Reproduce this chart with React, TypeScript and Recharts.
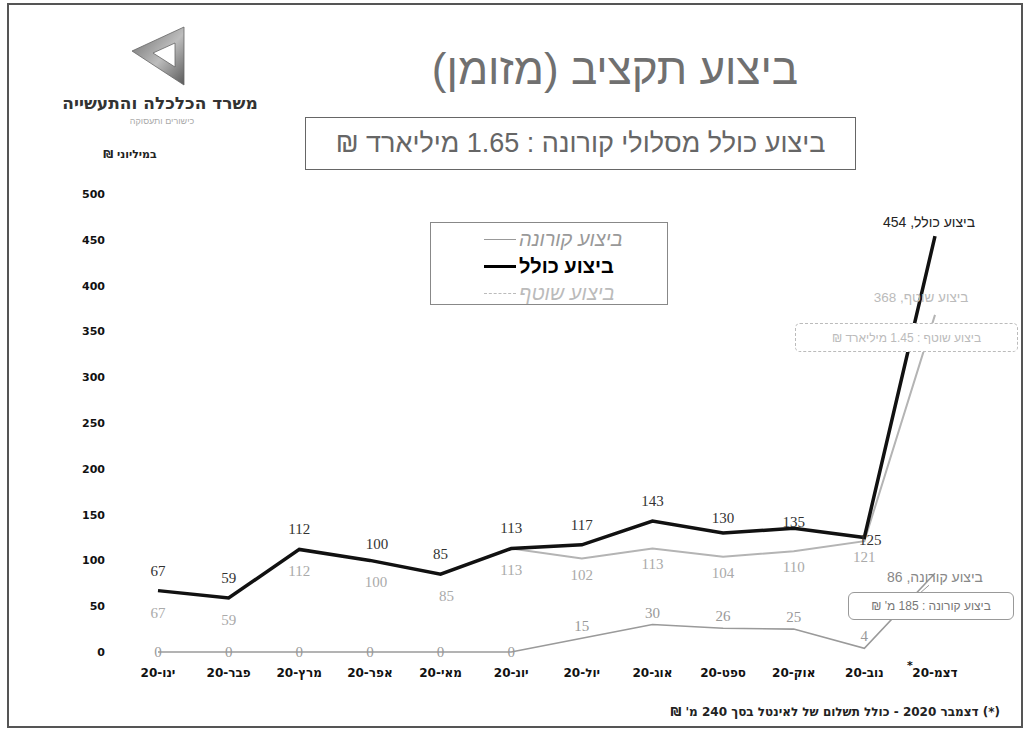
import React from "react";
import { LineChart, Line, XAxis, YAxis, LabelList } from "recharts";

// months, Jan..Dec 2020
const months = ["ינו-20", "פבר-20", "מרץ-20", "אפר-20", "מאי-20", "יונ-20", "יול-20", "אוג-20", "ספט-20", "אוק-20", "נוב-20", "דצמ-20"];
const totalSpend = [67, 59, 112, 100, 85, 113, 117, 143, 130, 135, 125, 454];
const ongoingSpend = [67, 59, 112, 100, 85, 113, 102, 113, 104, 110, 121, 368];
const coronaSpend = [0, 0, 0, 0, 0, 0, 15, 30, 26, 25, 4, 86];
const yTicks = [0, 50, 100, 150, 200, 250, 300, 350, 400, 450, 500];
const starredMonth = "דצמ-20";

const seriesNames = { corona: "ביצוע קורונה", total: "ביצוע כולל", ongoing: "ביצוע שוטף" };

const data = months.map((m, i) => ({
  month: m,
  total: totalSpend[i],
  ongoing: ongoingSpend[i],
  corona: coronaSpend[i],
}));

const LAST = months.length - 1;
const HEB = "'Liberation Sans', Arial, sans-serif";
const BOLD = "'DejaVu Sans', Tahoma, sans-serif";
const NUM = "'Liberation Serif', serif";

const C_TOTAL = "#111111";
const C_ONGOING = "#b4b4b4";
const C_CORONA = "#9a9a9a";

function TotalLabel(props: any) {
  const { x, y, value, index } = props;
  if (index === LAST) {
    return (
      <text x={x - 6} y={y - 9} textAnchor="middle" direction="rtl" fontFamily={HEB} fontSize={14} fill="#222">
        {`${seriesNames.total}, ${value}`}
      </text>
    );
  }
  let dx = 0;
  let dy = -20;
  if (index === 3) { dx = 7; dy = -16; }
  if (index === 8) dy = -15;
  if (index === 9) dy = -6;
  if (index === 10) { dx = 6; dy = 2; }
  return (
    <text x={x + dx} y={y + dy + 5} textAnchor="middle" fontFamily={NUM} fontSize={15} fill="#333">
      {value}
    </text>
  );
}

function OngoingLabel(props: any) {
  const { x, y, value, index } = props;
  if (index === LAST) {
    return (
      <text x={x - 14} y={y - 13} textAnchor="middle" direction="rtl" fontFamily={HEB} fontSize={13.5} fill="#bbb">
        {`${seriesNames.ongoing}, ${value}`}
      </text>
    );
  }
  const dy = index <= 5 ? 22 : 16;
  const dx = index === 3 || index === 4 ? 6 : 0;
  return (
    <text x={x + dx} y={y + dy + 5} textAnchor="middle" fontFamily={NUM} fontSize={15} fill="#aaa">
      {value}
    </text>
  );
}

function CoronaLabel(props: any) {
  const { x, y, value, index } = props;
  if (index === LAST) {
    return (
      <g>
        <text x={x} y={y + 9} textAnchor="middle" direction="rtl" fontFamily={HEB} fontSize={14} fill="#888">
          {`${seriesNames.corona}, ${value}`}
        </text>
        <line x1={x - 6} y1={y + 12} x2={x - 14} y2={y + 19} stroke="#999" strokeWidth={1} />
      </g>
    );
  }
  const dy = value === 0 ? 0 : -12;
  return (
    <text x={x} y={y + dy + 5} textAnchor="middle" fontFamily={NUM} fontSize={15} fill="#999">
      {value}
    </text>
  );
}

function MonthTick(props: any) {
  const { x, y, payload } = props;
  return (
    <g>
      <text x={x} y={y} dy={19} textAnchor="middle" fontFamily={BOLD} fontWeight="bold" fontSize={12} fill="#111">
        {payload.value}
      </text>
      {payload.value === starredMonth && (
        <text x={x - 25} y={y} dy={11} textAnchor="middle" fontFamily={BOLD} fontWeight="bold" fontSize={11} fill="#111">
          *
        </text>
      )}
    </g>
  );
}

function Legend() {
  const rows = [
    { name: seriesNames.corona, color: "#999", width: 1.5, dash: false, style: "italic", weight: "normal" },
    { name: seriesNames.total, color: "#000", width: 3, dash: false, style: "normal", weight: "bold" },
    { name: seriesNames.ongoing, color: "#bbb", width: 1.5, dash: true, style: "italic", weight: "normal" },
  ];
  return (
    <div
      style={{
        position: "absolute",
        left: 430,
        top: 222,
        width: 238,
        height: 83,
        border: "1px solid #888",
        boxSizing: "border-box",
        background: "#fff",
      }}
    >
      {rows.map((r, i) => (
        <div key={i} style={{ position: "absolute", left: 53, top: 3 + i * 27, height: 26, display: "flex", alignItems: "center" }}>
          <div
            style={{
              width: 32,
              height: 0,
              borderTop: `${r.width}px ${r.dash ? "dashed" : "solid"} ${r.color}`,
              marginRight: 3,
            }}
          />
          <span
            dir="rtl"
            style={{ fontFamily: HEB, fontSize: 20, fontStyle: r.style, fontWeight: r.weight as any, color: r.color, whiteSpace: "nowrap" }}
          >
            {r.name}
          </span>
        </div>
      ))}
    </div>
  );
}

function Logo() {
  return (
    <svg width={80} height={80} style={{ position: "absolute", left: 120, top: 18 }}>
      <defs>
        <linearGradient id="lg" x1="0" y1="0" x2="1" y2="1">
          <stop offset="0%" stopColor="#6a6a6a" />
          <stop offset="55%" stopColor="#bdbdbd" />
          <stop offset="100%" stopColor="#5a5a5a" />
        </linearGradient>
      </defs>
      <path
        d="M12,33 L64,9 L64,67 Z M33,35 L55,25 L55,49 Z"
        fill="url(#lg)"
        fillRule="evenodd"
        stroke="#666"
        strokeWidth={0.8}
      />
    </svg>
  );
}

export default function App() {
  return (
    <div style={{ position: "absolute", left: 0, top: 0, width: 1029, height: 733, background: "#fff", overflow: "hidden" }}>
      <div
        style={{
          position: "absolute",
          left: 7,
          top: 3,
          width: 1016,
          height: 725,
          border: "2px solid #555",
          boxSizing: "border-box",
        }}
      />
      <Logo />
      <div
        dir="rtl"
        style={{ position: "absolute", left: 40, width: 240, top: 95, textAlign: "center", fontFamily: BOLD, fontWeight: "bold", fontSize: 17, color: "#333", lineHeight: 1 }}
      >
        משרד הכלכלה והתעשייה
      </div>
      <div
        dir="rtl"
        style={{ position: "absolute", left: 100, width: 124, top: 117, textAlign: "center", fontFamily: HEB, fontSize: 9, color: "#aaa", lineHeight: 1 }}
      >
        כישורים ותעסוקה
      </div>
      <div
        dir="rtl"
        style={{ position: "absolute", left: 380, width: 470, top: 47, textAlign: "center", fontFamily: HEB, fontSize: 44, color: "#707070", lineHeight: 1 }}
      >
        ביצוע תקציב (מזומן)
      </div>
      <div
        dir="rtl"
        style={{
          position: "absolute",
          left: 305,
          top: 117,
          width: 551,
          height: 53,
          border: "1.5px solid #666",
          boxSizing: "border-box",
          display: "flex",
          alignItems: "center",
          justifyContent: "center",
          fontFamily: HEB,
          fontSize: 27,
          color: "#666",
        }}
      >
        ביצוע כולל מסלולי קורונה : 1.65 מיליארד ₪
      </div>
      <div
        dir="rtl"
        style={{ position: "absolute", left: 80, width: 100, top: 149, textAlign: "center", fontFamily: BOLD, fontWeight: "bold", fontSize: 11, color: "#222", lineHeight: 1 }}
      >
        במיליוני ₪
      </div>

      <div style={{ position: "absolute", left: 0, top: 0 }}>
        <LineChart width={1029} height={733} data={data} margin={{ top: 194, right: 59, bottom: 51, left: 0 }}>
          <XAxis
            dataKey="month"
            axisLine={false}
            tickLine={false}
            interval={0}
            tickMargin={0}
            padding={{ left: 35, right: 35 }}
            tick={<MonthTick />}
          />
          <YAxis
            width={123}
            domain={[0, 500]}
            ticks={yTicks}
            interval={0}
            axisLine={false}
            tickLine={false}
            tickMargin={12}
            tick={{ fontSize: 11, fontWeight: "bold", fill: "#111", fontFamily: BOLD }}
          />
          <Line dataKey="corona" stroke={C_CORONA} strokeWidth={1.6} dot={false} isAnimationActive={false}>
            <LabelList dataKey="corona" content={CoronaLabel} />
          </Line>
          <Line dataKey="ongoing" stroke={C_ONGOING} strokeWidth={2} dot={false} isAnimationActive={false}>
            <LabelList dataKey="ongoing" content={OngoingLabel} />
          </Line>
          <Line dataKey="total" stroke={C_TOTAL} strokeWidth={3.5} dot={false} isAnimationActive={false}>
            <LabelList dataKey="total" content={TotalLabel} />
          </Line>
        </LineChart>
      </div>

      <Legend />

      <div
        dir="rtl"
        style={{
          position: "absolute",
          left: 795,
          top: 323,
          width: 223,
          height: 29,
          border: "1px dashed #bbb",
          borderRadius: 5,
          boxSizing: "border-box",
          background: "#fff",
          display: "flex",
          alignItems: "center",
          justifyContent: "center",
          fontFamily: HEB,
          fontSize: 12,
          color: "#bbb",
        }}
      >
        ביצוע שוטף : 1.45 מיליארד ₪
      </div>
      <div
        dir="rtl"
        style={{
          position: "absolute",
          left: 848,
          top: 592,
          width: 166,
          height: 28,
          border: "1.5px solid #999",
          borderRadius: 6,
          boxSizing: "border-box",
          background: "#fff",
          display: "flex",
          alignItems: "center",
          justifyContent: "center",
          fontFamily: HEB,
          fontSize: 12,
          color: "#777",
        }}
      >
        ביצוע קורונה : 185 מ' ₪
      </div>

      <div
        dir="rtl"
        style={{ position: "absolute", left: 560, width: 440, top: 706, textAlign: "right", fontFamily: BOLD, fontWeight: "bold", fontSize: 12, color: "#222", lineHeight: 1 }}
      >
        (*) דצמבר 2020 - כולל תשלום של לאינטל בסך 240 מ' ₪
      </div>
    </div>
  );
}
